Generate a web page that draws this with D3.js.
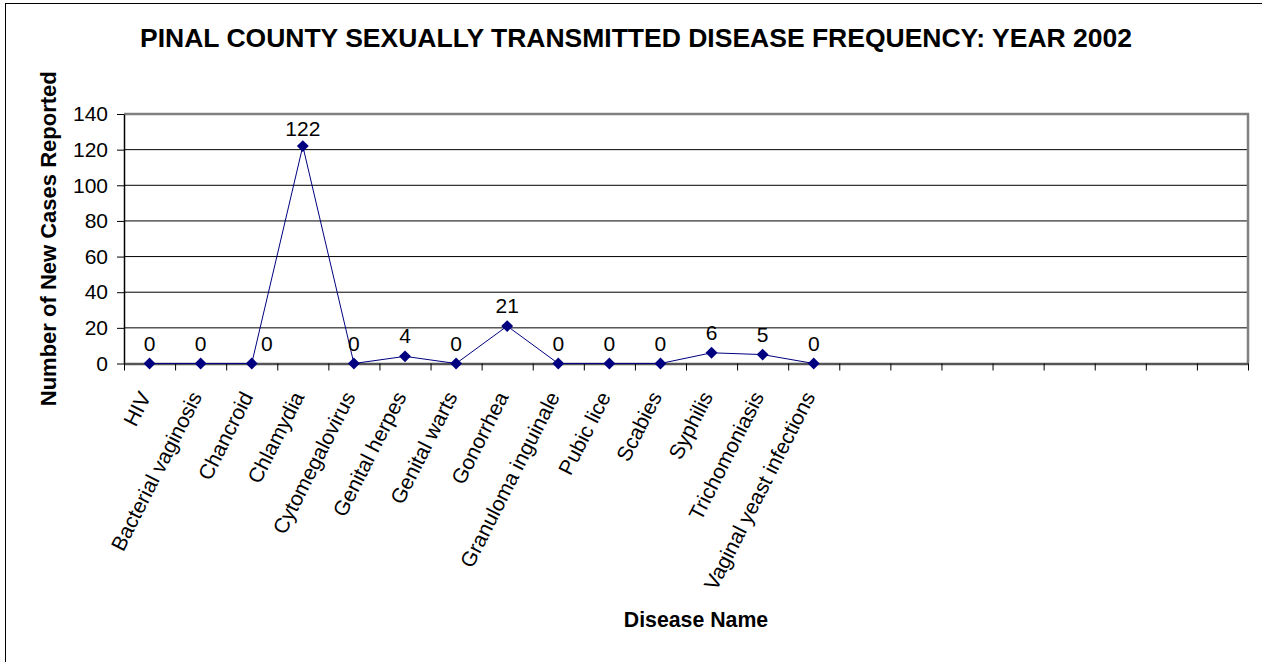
<!DOCTYPE html>
<html>
<head>
<meta charset="utf-8">
<title>Pinal County STD Frequency 2002</title>
<script src="https://d3js.org/d3.v7.min.js"></script>
<style>
  body { margin: 0; background: #fff; }
  svg text { font-family: "Liberation Sans", Arial, sans-serif; fill: #000; }
</style>
</head>
<body>
<svg id="chart" width="1262" height="662"></svg>
<script>
// data
const diseases = ["HIV", "Bacterial vaginosis", "Chancroid", "Chlamydia", "Cytomegalovirus",
  "Genital herpes", "Genital warts", "Gonorrhea", "Granuloma inguinale", "Pubic lice",
  "Scabies", "Syphilis", "Trichomoniasis", "Vaginal yeast infections"];
const cases = [0, 0, 0, 122, 0, 4, 0, 21, 0, 0, 0, 6, 5, 0];
const slotCount = 22;   // the category axis has 8 empty slots after the data
const yTicks = [0, 20, 40, 60, 80, 100, 120, 140];

const svg = d3.select("#chart");
const plotL = 124, plotR = 1248, plotT = 114, plotB = 363.5;

// outer chart frame (right and bottom edges fall outside the picture)
svg.append("rect")
  .attr("x", 5.5).attr("y", 3.5)
  .attr("width", 1300).attr("height", 700)
  .attr("fill", "none").attr("stroke", "#000").attr("stroke-width", 1);

const x = d3.scaleBand().domain(d3.range(slotCount)).range([plotL, plotR]).padding(0);
const xEdge = d3.scaleLinear().domain([0, slotCount]).range([plotL, plotR]);
const y = d3.scaleLinear().domain([0, 140]).range([plotB, plotT]);
const cx = i => x(i) + x.bandwidth() / 2;

// gridlines
svg.append("g")
  .selectAll("line")
  .data(yTicks.filter(v => v > 0 && v < 140))
  .join("line")
    .attr("x1", plotL).attr("x2", plotR)
    .attr("y1", d => y(d)).attr("y2", d => y(d))
    .attr("stroke", "#000").attr("stroke-width", 1);

// plot area border, top and right
svg.append("path")
  .attr("d", `M${plotL},${y(140)}H${plotR}V${plotB}`)
  .attr("fill", "none").attr("stroke", "#808080").attr("stroke-width", 2.5);

// y axis
const yAxis = svg.append("g")
  .attr("transform", `translate(${plotL},0)`)
  .call(d3.axisLeft(y).tickValues(yTicks).tickSize(7).tickPadding(9).tickSizeOuter(0));
yAxis.select(".domain").attr("stroke", "#000").attr("stroke-width", 1.5);
yAxis.selectAll(".tick line").attr("stroke", "#000");
yAxis.selectAll(".tick text").attr("font-size", 21).style("font-family", "'Liberation Sans', Arial, sans-serif");

// x axis with ticks between categories
const xAxis = svg.append("g")
  .attr("transform", `translate(0,${plotB})`)
  .call(d3.axisBottom(xEdge).tickValues(d3.range(slotCount + 1)).tickFormat("").tickSize(7).tickSizeOuter(0));
xAxis.select(".domain").attr("stroke", "#555").attr("stroke-width", 2.5);
xAxis.selectAll(".tick line").attr("stroke", "#000");

// category labels, rotated
svg.append("g")
  .selectAll("text")
  .data(diseases)
  .join("text")
    .attr("transform", (d, i) => `translate(${cx(i) + 2},${plotB + 33}) rotate(-63)`)
    .attr("text-anchor", "end")
    .attr("font-size", 21)
    .text(d => d);

// line and markers
const pts = cases.map((v, i) => ({ name: diseases[i], i: i, v: v }));
svg.append("path")
  .datum(pts)
  .attr("fill", "none")
  .attr("stroke", "#000080")
  .attr("stroke-width", 1)
  .attr("d", d3.line().x(d => cx(d.i)).y(d => y(d.v)));

svg.append("g")
  .selectAll("path")
  .data(pts)
  .join("path")
    .attr("transform", d => `translate(${cx(d.i)},${y(d.v)})`)
    .attr("d", d3.symbol(d3.symbolDiamond2, 90))
    .attr("fill", "#000080");

// data labels
svg.append("g")
  .selectAll("text")
  .data(pts)
  .join("text")
    .attr("x", d => cx(d.i) + (d.name === "Chancroid" ? 15 : 0))
    .attr("y", d => y(d.v) - (d.v > 100 ? 10 : 13))
    .attr("text-anchor", "middle")
    .attr("font-size", 21)
    .text(d => d.v);

// titles
svg.append("text")
  .attr("x", 636).attr("y", 47)
  .attr("text-anchor", "middle")
  .attr("font-size", 26.5).attr("font-weight", "bold")
  .text("PINAL COUNTY SEXUALLY TRANSMITTED DISEASE FREQUENCY: YEAR 2002");

svg.append("text")
  .attr("x", 696).attr("y", 627)
  .attr("text-anchor", "middle")
  .attr("font-size", 21.3).attr("font-weight", "bold")
  .text("Disease Name");

svg.append("text")
  .attr("transform", `translate(56,${(plotT + plotB) / 2}) rotate(-90)`)
  .attr("text-anchor", "middle")
  .attr("font-size", 22).attr("font-weight", "bold")
  .text("Number of New Cases Reported");
</script>
</body>
</html>
